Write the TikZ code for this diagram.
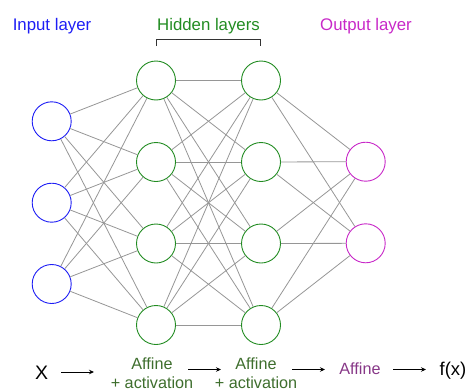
\documentclass[tikz,border=0pt]{standalone}
\usepackage{fontspec}
\setmainfont{Liberation Sans}
\usetikzlibrary{arrows.meta}
\definecolor{inblue}{RGB}{30,30,245}
\definecolor{hidgreen}{RGB}{34,140,34}
\definecolor{outmag}{RGB}{200,40,200}
\definecolor{stepgreen}{RGB}{62,110,45}
\definecolor{steppurple}{RGB}{135,55,135}
\definecolor{linkgray}{RGB}{150,150,150}
\begin{document}
\begin{tikzpicture}[x=1pt,y=-1pt,
  neuron/.style={circle, fill=white, minimum size=39pt, inner sep=0pt, line width=0.9pt},
  innode/.style={neuron, draw=inblue},
  hidnode/.style={neuron, draw=hidgreen},
  outnode/.style={neuron, draw=outmag},
  link/.style={draw=linkgray, line width=0.8pt},
  title/.style={anchor=base, inner sep=0pt, font=\fontsize{16.8}{20}\selectfont},
  stagetext/.style={anchor=base, inner sep=0pt, font=\fontsize{16.2}{20}\selectfont},
  flow/.style={-{Stealth[length=5pt,width=4.5pt]}, line width=1pt},
]
\useasboundingbox (0,0) rectangle (471,391);

% layer titles
\node[title, text=inblue] (tin) at (52,30) {Input layer};
\node[title, text=hidgreen] (thid) at (208.5,30) {Hidden layers};
\node[title, text=outmag] (tout) at (366,30) {Output layer};

% bracket over the hidden layers
\coordinate (bl) at (156.5,46);
\coordinate (br) at (260.5,46);
\draw[line width=0.9pt, draw=black!80] (bl) -- ++(0,-7) -| (br);

% neurons
\foreach \i/\y in {1/121.3, 2/202.7, 3/284}
  \node[innode] (i\i) at (51.7,\y) {};
\foreach \i/\y in {1/80.5, 2/162, 3/243.5, 4/325}{
  \node[hidnode] (a\i) at (156,\y) {};
  \node[hidnode] (b\i) at (261,\y) {};
}
\foreach \i/\y in {1/161.7, 2/243.3}
  \node[outnode] (o\i) at (365.7,\y) {};

% full connections between consecutive layers
\foreach \s in {1,2,3}
  \foreach \t in {1,2,3,4}
    \draw[link] (i\s) -- (a\t);
\foreach \s in {1,2,3,4}
  \foreach \t in {1,2,3,4}
    \draw[link] (a\s) -- (b\t);
\foreach \s in {1,2,3,4}
  \foreach \t in {1,2}
    \draw[link] (b\s) -- (o\t);

% computation chain
\node[anchor=base, inner sep=0pt, font=\fontsize{19.5}{22}\selectfont] (x) at (41.7,379) {X};
\node[stagetext, text=stepgreen] (s1a) at (152,369.5) {Affine};
\node[stagetext, text=stepgreen] (s1b) at (152,388.3) {+ activation};
\node[stagetext, text=stepgreen] (s2a) at (256,369.5) {Affine};
\node[stagetext, text=stepgreen] (s2b) at (256,388.3) {+ activation};
\node[stagetext, text=steppurple] (s3) at (360,374.5) {Affine};
\node[anchor=base, inner sep=0pt, font=\fontsize{18.5}{22}\selectfont] (fx) at (453,375.5) {f(x)};

\coordinate (f1s) at (61,372);   \coordinate (f1e) at (94,372);
\coordinate (f2s) at (188,369.5); \coordinate (f2e) at (221,369.5);
\coordinate (f3s) at (292,369.5); \coordinate (f3e) at (325,369.5);
\coordinate (f4s) at (393,369.5); \coordinate (f4e) at (426,369.5);
\draw[flow] (f1s) -- (f1e);
\draw[flow] (f2s) -- (f2e);
\draw[flow] (f3s) -- (f3e);
\draw[flow] (f4s) -- (f4e);
\end{tikzpicture}
\end{document}
